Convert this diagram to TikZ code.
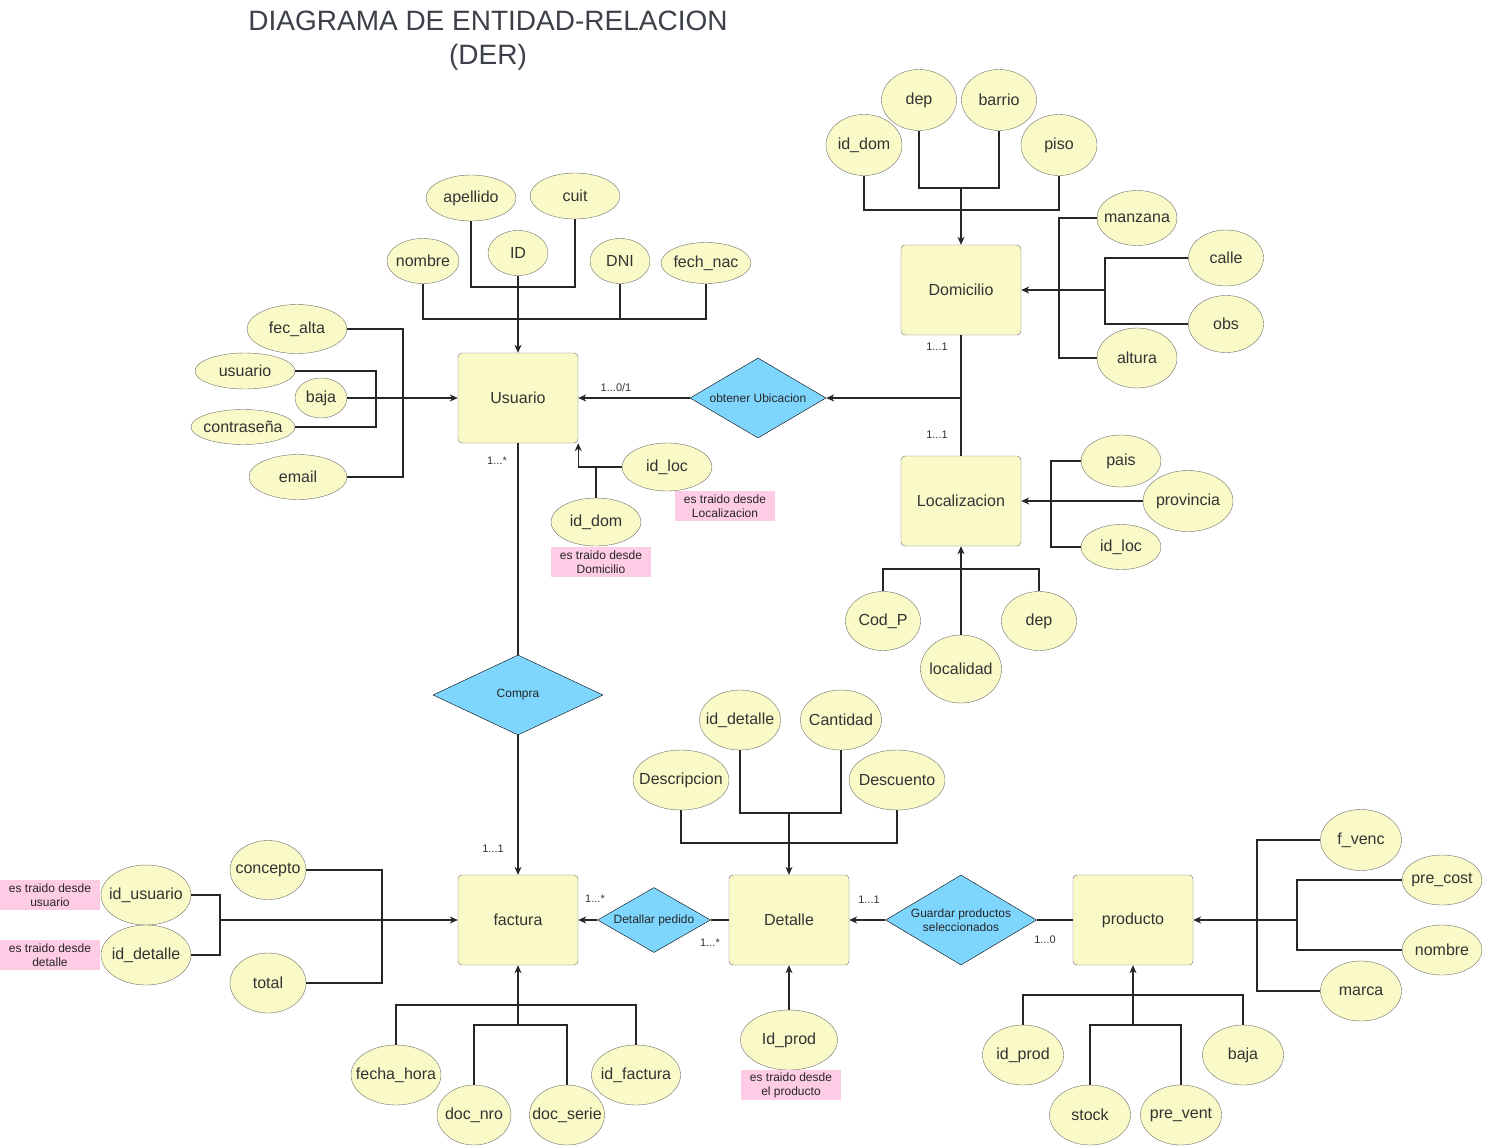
\documentclass[tikz,border=0pt]{standalone}
\usepackage{fontspec}
\setmainfont{Liberation Sans}
\usetikzlibrary{shapes.geometric,arrows.meta}
\definecolor{amarillo}{RGB}{250,250,200}
\definecolor{celeste}{RGB}{126,214,255}
\definecolor{rosa}{RGB}{255,204,230}
\definecolor{gristxt}{RGB}{51,51,51}
\definecolor{borde}{RGB}{110,110,110}
\definecolor{titulo}{RGB}{60,64,72}
\tikzset{
  atributo/.style={ellipse, draw=borde, fill=amarillo, text=gristxt, inner xsep=-30pt, inner ysep=0pt, font=\fontsize{16}{18}\selectfont},
  tam/.style 2 args={minimum width=#1pt, minimum height=#2pt},
  entidad/.style={rectangle, rounded corners=4pt, draw=borde, fill=amarillo, text=gristxt, minimum width=120pt, minimum height=90pt, font=\fontsize{16}{18}\selectfont},
  relacion/.style={diamond, draw=black, fill=celeste, text=black!85, inner xsep=-20pt, inner ysep=-4pt, align=center, font=\fontsize{12}{14}\selectfont},
  nota/.style={rectangle, fill=rosa, text=black!85, minimum width=100pt, minimum height=30pt, inner sep=0pt, align=center, font=\fontsize{12}{14}\selectfont},
  card/.style={text=gristxt, font=\fontsize{11}{13}\selectfont},
  flecha/.style={-{Stealth[length=8pt,width=7pt,inset=2.5pt]}},
}
\begin{document}
\begin{tikzpicture}[x=1pt,y=-1pt]
  \useasboundingbox (0,0) rectangle (1485,1146);
  \node[text=titulo, align=center, font=\fontsize{28}{34}\selectfont] (tit) at (488,41) {DIAGRAMA DE ENTIDAD-RELACION\\(DER)};
  \draw
    (518,398) node[entidad] (usu) {Usuario}
    (961,290) node[entidad] (dom) {Domicilio}
    (961,501) node[entidad] (loc) {Localizacion}
    (518,920) node[entidad] (fac) {factura}
    (789,920) node[entidad] (det) {Detalle}
    (1133,920) node[entidad] (prod) {producto};
  \draw
    (758,398) node[relacion, tam={136}{80}] (ubic) {obtener Ubicacion}
    (518,695) node[relacion, tam={170}{80}] (compra) {Compra}
    (654,920) node[relacion, tam={113}{65}] (detped) {Detallar pedido}
    (961,920) node[relacion, tam={151}{90}] (guardar) {Guardar productos\\seleccionados};
  \draw
    (471,198) node[atributo, tam={90}{46}] (apellido) {apellido}
    (575,196) node[atributo, tam={90}{46}] (cuit) {cuit}
    (423,261) node[atributo, tam={72}{45}] (nombreU) {nombre}
    (518,253) node[atributo, tam={60}{45}] (id) {ID}
    (620,261) node[atributo, tam={60}{45}] (dni) {DNI}
    (706,263) node[atributo, tam={90}{41}] (fechnac) {fech\_nac}
    (297,329) node[atributo, tam={100}{49}] (fecalta) {fec\_alta}
    (245,371) node[atributo, tam={100}{36}] (usuario) {usuario}
    (321,398) node[atributo, tam={52}{40}] (bajaU) {baja}
    (243,427) node[atributo, tam={104}{35}] (contra) {contraseña}
    (298,477) node[atributo, tam={98}{45}] (email) {email}
    (667,467) node[atributo, tam={90}{48}] (idlocU) {id\_loc}
    (596,522) node[atributo, tam={90}{48}] (iddomU) {id\_dom}
    (725,506) node[nota] (notaloc) {es traido desde\\Localizacion}
    (601,562) node[nota] (notadom) {es traido desde\\Domicilio};
  \draw
    (919,100) node[atributo, tam={75}{61}] (depD) {dep}
    (999,100) node[atributo, tam={75}{61}] (barrio) {barrio}
    (864,145) node[atributo, tam={76}{61}] (iddomD) {id\_dom}
    (1059,145) node[atributo, tam={76}{61}] (piso) {piso}
    (1137,218) node[atributo, tam={80}{55}] (manzana) {manzana}
    (1226,258) node[atributo, tam={75}{56}] (calle) {calle}
    (1226,324) node[atributo, tam={75}{57}] (obs) {obs}
    (1137,358) node[atributo, tam={80}{60}] (altura) {altura};
  \draw
    (1121,461) node[atributo, tam={80}{52}] (pais) {pais}
    (1188,501) node[atributo, tam={90}{61}] (provincia) {provincia}
    (1121,547) node[atributo, tam={80}{45}] (idlocL) {id\_loc}
    (883,621) node[atributo, tam={75}{59}] (codp) {Cod\_P}
    (961,669) node[atributo, tam={81}{68}] (localidad) {localidad}
    (1039,621) node[atributo, tam={75}{59}] (depL) {dep};
  \draw
    (268,870) node[atributo, tam={76}{59}] (concepto) {concepto}
    (268,983) node[atributo, tam={76}{60}] (total) {total}
    (146,895) node[atributo, tam={90}{60}] (idusu) {id\_usuario}
    (146,955) node[atributo, tam={90}{60}] (iddetF) {id\_detalle}
    (50,895) node[nota] (notausu) {es traido desde\\usuario}
    (50,955) node[nota] (notadet) {es traido desde\\detalle}
    (396,1075) node[atributo, tam={90}{60}] (fecha) {fecha\_hora}
    (474,1115) node[atributo, tam={74}{60}] (docnro) {doc\_nro}
    (567,1115) node[atributo, tam={75}{60}] (docserie) {doc\_serie}
    (636,1075) node[atributo, tam={89}{60}] (idfac) {id\_factura};
  \draw
    (740,720) node[atributo, tam={81}{60}] (iddetD) {id\_detalle}
    (841,720) node[atributo, tam={81}{60}] (cantidad) {Cantidad}
    (681,780) node[atributo, tam={96}{60}] (descripcion) {Descripcion}
    (897,780) node[atributo, tam={96}{60}] (descuento) {Descuento}
    (789,1040) node[atributo, tam={97}{60}] (idprodD) {Id\_prod}
    (791,1085) node[nota] (notaprod) {es traido desde\\el producto};
  \draw
    (1361,840) node[atributo, tam={81}{61}] (fvenc) {f\_venc}
    (1442,880) node[atributo, tam={80}{50}] (precost) {pre\_cost}
    (1442,950) node[atributo, tam={80}{50}] (nombreP) {nombre}
    (1361,991) node[atributo, tam={81}{60}] (marca) {marca}
    (1023,1055) node[atributo, tam={81}{60}] (idprodP) {id\_prod}
    (1090,1115) node[atributo, tam={81}{60}] (stock) {stock}
    (1181,1115) node[atributo, tam={81}{60}] (prevent) {pre\_vent}
    (1243,1055) node[atributo, tam={81}{60}] (bajaP) {baja};
  \draw
    (616,388) node[card] (c1) {1...0/1}
    (497,461) node[card] (c2) {1...*}
    (937,347) node[card] (c3) {1...1}
    (937,435) node[card] (c4) {1...1}
    (493,849) node[card] (c5) {1...1}
    (595,899) node[card] (c6) {1...*}
    (710,943) node[card] (c7) {1...*}
    (869,900) node[card] (c8) {1...1}
    (1045,940) node[card] (c9) {1...0};
  \coordinate (jU1) at (518,287);
  \coordinate (jU2) at (518,319);
  \coordinate (jU3) at (403,398);
  \coordinate (jU4) at (376,398);
  \coordinate (jU5) at (596,467);
  \coordinate (jD1) at (961,188);
  \coordinate (jD2) at (961,210);
  \coordinate (jD3) at (1059,290);
  \coordinate (jD4) at (1105,290);
  \coordinate (jD5) at (961,398);
  \coordinate (jL1) at (1051,501);
  \coordinate (jL2) at (961,569);
  \coordinate (jF1) at (220,920);
  \coordinate (jF2) at (382,920);
  \coordinate (jF3) at (518,1005);
  \coordinate (jF4) at (518,1025);
  \coordinate (jT1) at (789,813);
  \coordinate (jT2) at (789,843);
  \coordinate (jP1) at (1257,920);
  \coordinate (jP2) at (1297,920);
  \coordinate (jP3) at (1133,995);
  \coordinate (jP4) at (1133,1025);
  \begin{scope}[line width=1.1pt, draw=black!85]
    \draw (apellido.south) |- (jU1) -| (cuit.south);
    \draw (nombreU.south) |- (jU2) -| (fechnac.south);
    \draw (dni.south) -- (dni.south |- jU2);
    \draw[flecha] (id.south) -- (usu.north);
    \draw (fecalta.east) -| (jU3) |- (email.east);
    \draw (usuario.east) -| (jU4) |- (contra.east);
    \draw[flecha] (bajaU.east) -- (usu.west);
    \draw[flecha] (idlocU.west) -| (usu.south east);
    \draw (iddomU.north) -- (jU5);
    \draw (usu.south) -- (compra.north);
    \draw[flecha] (compra.south) -- (fac.north);
    \draw[flecha] (ubic.west) -- (usu.east);
    \draw (dom.south) -- (loc.north);
    \draw[flecha] (jD5) -- (ubic.east);
    \draw (depD.south) |- (jD1) -| (barrio.south);
    \draw (iddomD.south) |- (jD2) -| (piso.south);
    \draw[flecha] (jD1) -- (dom.north);
    \draw (manzana.west) -| (jD3) |- (altura.west);
    \draw (calle.west) -| (jD4) |- (obs.west);
    \draw[flecha] (jD4) -- (dom.east);
    \draw (pais.west) -| (jL1) |- (idlocL.west);
    \draw[flecha] (provincia.west) -- (loc.east);
    \draw (codp.north) |- (jL2) -| (depL.north);
    \draw[flecha] (localidad.north) -- (loc.south);
    \draw (idusu.east) -| (jF1) |- (iddetF.east);
    \draw (concepto.east) -| (jF2) |- (total.east);
    \draw[flecha] (jF1) -- (fac.west);
    \draw (fecha.north) |- (jF3) -| (idfac.north);
    \draw (docnro.north) |- (jF4) -| (docserie.north);
    \draw[flecha] (jF4) -- (fac.south);
    \draw (det.west) -- (detped.east);
    \draw[flecha] (detped.west) -- (fac.east);
    \draw (iddetD.south) |- (jT1) -| (cantidad.south);
    \draw (descripcion.south) |- (jT2) -| (descuento.south);
    \draw[flecha] (jT1) -- (det.north);
    \draw[flecha] (idprodD.north) -- (det.south);
    \draw (prod.west) -- (guardar.east);
    \draw[flecha] (guardar.west) -- (det.east);
    \draw (fvenc.west) -| (jP1) |- (marca.west);
    \draw (precost.west) -| (jP2) |- (nombreP.west);
    \draw[flecha] (jP2) -- (prod.east);
    \draw (idprodP.north) |- (jP3) -| (bajaP.north);
    \draw (stock.north) |- (jP4) -| (prevent.north);
    \draw[flecha] (jP4) -- (prod.south);
  \end{scope}
\end{tikzpicture}
\end{document}
